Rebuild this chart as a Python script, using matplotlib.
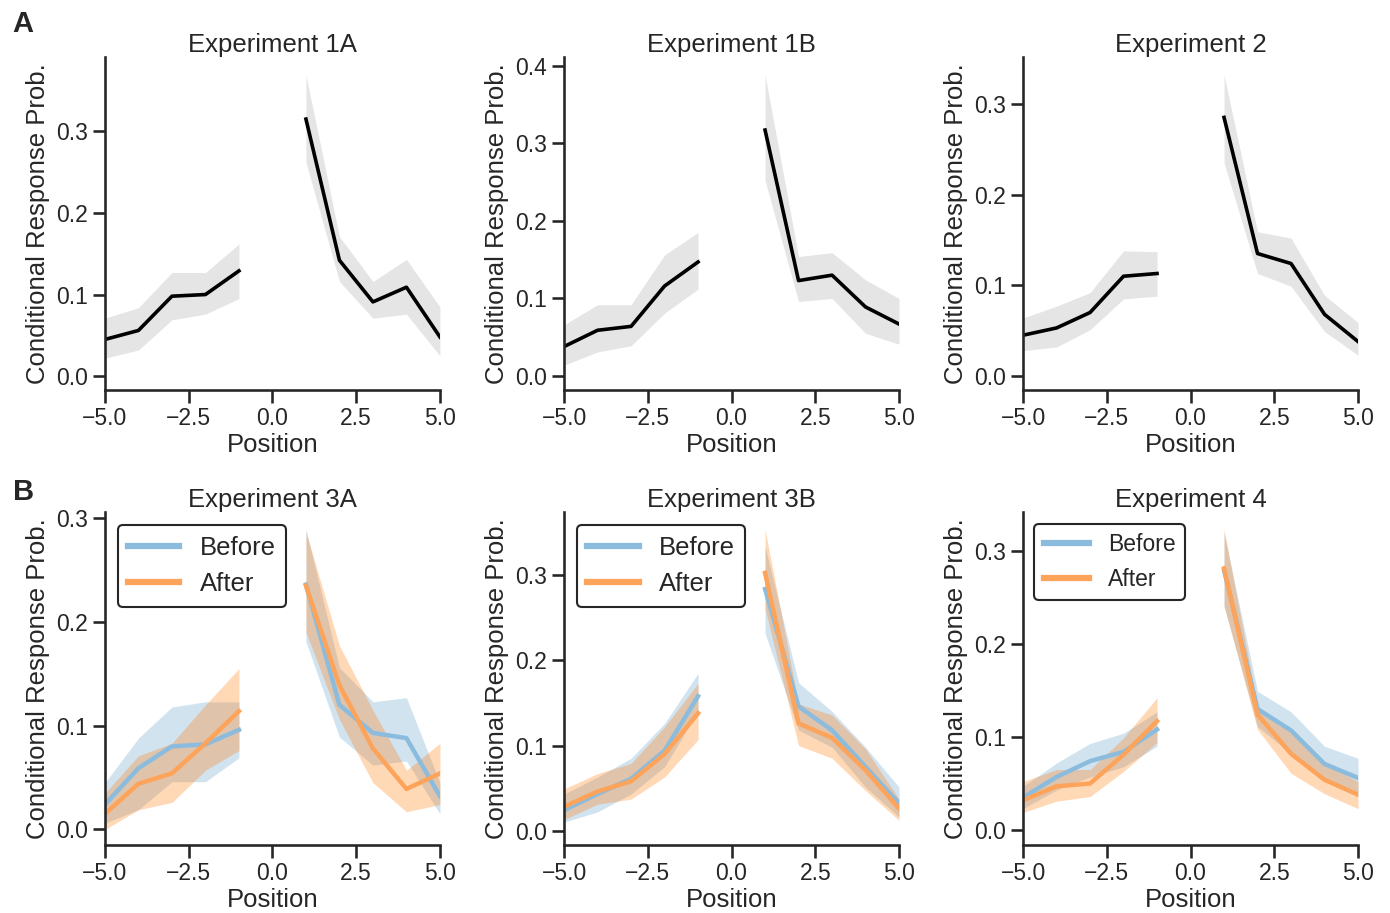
import matplotlib
matplotlib.use("Agg")
import matplotlib.pyplot as plt
from matplotlib.ticker import MultipleLocator

# positions relative to the target item (0 itself is not plotted)
positions = [-5, -4, -3, -2, -1, 1, 2, 3, 4, 5]

# --- row A: single curve per experiment ---
exp1a_mean = [0.045, 0.056, 0.098, 0.100, 0.129, 0.315, 0.142, 0.091, 0.109, 0.048]
exp1a_lo = [0.022, 0.032, 0.069, 0.076, 0.095, 0.262, 0.116, 0.071, 0.076, 0.025]
exp1a_hi = [0.071, 0.084, 0.127, 0.127, 0.162, 0.369, 0.171, 0.116, 0.143, 0.085]

exp1b_mean = [0.038, 0.059, 0.064, 0.116, 0.147, 0.317, 0.123, 0.130, 0.089, 0.067]
exp1b_lo = [0.014, 0.031, 0.039, 0.081, 0.112, 0.252, 0.096, 0.100, 0.055, 0.041]
exp1b_hi = [0.066, 0.092, 0.092, 0.156, 0.185, 0.388, 0.154, 0.159, 0.124, 0.100]

exp2_mean = [0.045, 0.053, 0.070, 0.110, 0.113, 0.285, 0.135, 0.124, 0.068, 0.038]
exp2_lo = [0.028, 0.032, 0.051, 0.085, 0.088, 0.235, 0.113, 0.099, 0.049, 0.023]
exp2_hi = [0.064, 0.077, 0.092, 0.138, 0.137, 0.332, 0.159, 0.152, 0.089, 0.059]

# --- row B: before / after ---
exp3a_before_mean = [0.024, 0.059, 0.080, 0.082, 0.096, 0.236, 0.120, 0.093, 0.088, 0.032]
exp3a_before_lo = [0.006, 0.019, 0.046, 0.046, 0.069, 0.181, 0.089, 0.062, 0.066, 0.015]
exp3a_before_hi = [0.045, 0.088, 0.118, 0.123, 0.123, 0.289, 0.156, 0.123, 0.127, 0.045]
exp3a_after_mean = [0.015, 0.044, 0.054, 0.083, 0.114, 0.235, 0.139, 0.078, 0.039, 0.054]
exp3a_after_lo = [0.000, 0.019, 0.026, 0.057, 0.076, 0.190, 0.106, 0.045, 0.017, 0.024]
exp3a_after_hi = [0.035, 0.071, 0.083, 0.120, 0.155, 0.287, 0.177, 0.115, 0.057, 0.083]

exp3b_before_mean = [0.024, 0.043, 0.061, 0.094, 0.158, 0.284, 0.146, 0.118, 0.075, 0.032]
exp3b_before_lo = [0.010, 0.022, 0.043, 0.075, 0.140, 0.232, 0.118, 0.098, 0.051, 0.016]
exp3b_before_hi = [0.043, 0.063, 0.085, 0.126, 0.185, 0.334, 0.174, 0.140, 0.098, 0.051]
exp3b_after_mean = [0.028, 0.046, 0.058, 0.090, 0.138, 0.303, 0.126, 0.109, 0.071, 0.026]
exp3b_after_lo = [0.013, 0.031, 0.037, 0.063, 0.107, 0.261, 0.100, 0.085, 0.047, 0.012]
exp3b_after_hi = [0.049, 0.067, 0.079, 0.122, 0.173, 0.354, 0.149, 0.136, 0.096, 0.037]

exp4_before_mean = [0.035, 0.057, 0.074, 0.084, 0.108, 0.279, 0.130, 0.107, 0.071, 0.056]
exp4_before_lo = [0.023, 0.043, 0.057, 0.068, 0.090, 0.240, 0.111, 0.082, 0.054, 0.036]
exp4_before_hi = [0.047, 0.072, 0.093, 0.104, 0.127, 0.319, 0.149, 0.127, 0.090, 0.077]
exp4_after_mean = [0.032, 0.047, 0.050, 0.081, 0.117, 0.281, 0.124, 0.082, 0.054, 0.038]
exp4_after_lo = [0.019, 0.031, 0.036, 0.063, 0.094, 0.241, 0.108, 0.061, 0.039, 0.023]
exp4_after_hi = [0.052, 0.065, 0.065, 0.099, 0.142, 0.323, 0.133, 0.104, 0.072, 0.052]

TEXT = "#262626"
BLUE_LINE, ORANGE_LINE = "#8bbcdd", "#fda35a"

plt.rcParams.update({
    "font.family": ["Liberation Sans", "DejaVu Sans"],
    "text.color": TEXT,
    "axes.labelcolor": TEXT,
    "axes.edgecolor": TEXT,
    "axes.linewidth": 1.875,
    "xtick.color": TEXT,
    "ytick.color": TEXT,
    "xtick.major.size": 9,
    "ytick.major.size": 9,
    "xtick.major.width": 1.875,
    "ytick.major.width": 1.875,
    "xtick.labelsize": 16.5,
    "ytick.labelsize": 16.5,
    "axes.labelsize": 18.5,
    "axes.titlesize": 18.5,
})


def split(xs, ys):
    pre = [(x, y) for x, y in zip(xs, ys) if x < 0]
    post = [(x, y) for x, y in zip(xs, ys) if x > 0]
    return [list(zip(*pre)), list(zip(*post))]


def curve(ax, mean, lo, hi, color, fill, alpha, lw, label=None):
    for i, ((x, m), (_, l), (_, h)) in enumerate(zip(split(positions, mean),
                                                     split(positions, lo),
                                                     split(positions, hi))):
        ax.plot(x, m, color=color, lw=lw, label=label if i == 0 else None)
        ax.fill_between(x, l, h, color=fill, alpha=alpha, lw=0)


def style(ax, title, ylim):
    ax.set_xlim(-5, 5)
    ax.set_ylim(*ylim)
    ax.set_xticks([-5, -2.5, 0, 2.5, 5])
    ax.set_xticklabels(["\u22125.0", "\u22122.5", "0.0", "2.5", "5.0"])
    ax.yaxis.set_major_locator(MultipleLocator(0.1))
    ax.yaxis.set_major_formatter(matplotlib.ticker.FormatStrFormatter("%.1f"))
    ax.spines["top"].set_visible(False)
    ax.spines["right"].set_visible(False)
    ax.set_title(title, pad=4)
    ax.set_xlabel("Position", labelpad=2)
    ax.set_ylabel("Conditional Response Prob.")


fig = plt.figure(figsize=(13.9, 9.13), dpi=100)
lefts = [0.0755, 0.4058, 0.736]
w = 0.241
axA = [fig.add_axes([l, 0.5728, w, 0.3647]) for l in lefts]
axB = [fig.add_axes([l, 0.0745, w, 0.3642]) for l in lefts]

row_a = [
    ("Experiment 1A", exp1a_mean, exp1a_lo, exp1a_hi, (-0.017, 0.391)),
    ("Experiment 1B", exp1b_mean, exp1b_lo, exp1b_hi, (-0.018, 0.411)),
    ("Experiment 2", exp2_mean, exp2_lo, exp2_hi, (-0.0154, 0.3515)),
]
for ax, (title, m, lo, hi, ylim) in zip(axA, row_a):
    curve(ax, m, lo, hi, "black", "black", 0.1, 2.6)
    style(ax, title, ylim)

row_b = [
    ("Experiment 3A", exp3a_before_mean, exp3a_before_lo, exp3a_before_hi,
     exp3a_after_mean, exp3a_after_lo, exp3a_after_hi, (-0.015, 0.3055), 18.5),
    ("Experiment 3B", exp3b_before_mean, exp3b_before_lo, exp3b_before_hi,
     exp3b_after_mean, exp3b_after_lo, exp3b_after_hi, (-0.0169, 0.374), 18.5),
    ("Experiment 4", exp4_before_mean, exp4_before_lo, exp4_before_hi,
     exp4_after_mean, exp4_after_lo, exp4_after_hi, (-0.016, 0.341), 16.5),
]
for ax, (title, bm, bl, bh, am, al, ah, ylim, lfs) in zip(axB, row_b):
    curve(ax, bm, bl, bh, BLUE_LINE, "tab:blue", 0.2, 3.2, label="Before")
    curve(ax, am, al, ah, ORANGE_LINE, "tab:orange", 0.3, 3.2, label="After")
    style(ax, title, ylim)
    leg = ax.legend(loc="upper left", fontsize=lfs, fancybox=True, framealpha=1)
    leg.get_frame().set_edgecolor(TEXT)
    leg.get_frame().set_linewidth(1.5)
    for line in leg.get_lines():
        line.set_linewidth(4.5)

fig.text(0.0086, 0.965, "A", fontsize=21, fontweight="bold", va="baseline")
fig.text(0.0093, 0.4524, "B", fontsize=21, fontweight="bold", va="baseline")

fig.savefig("out.png", dpi=100)
